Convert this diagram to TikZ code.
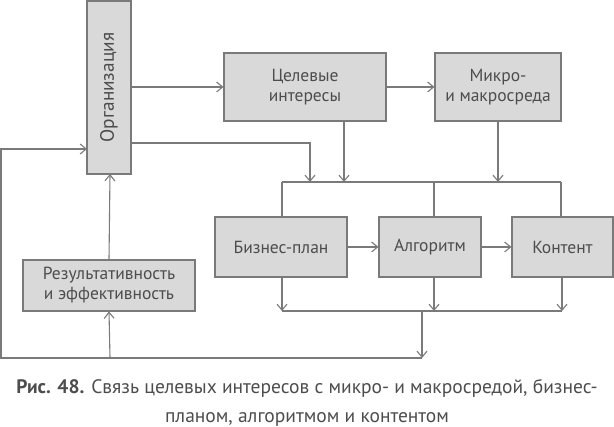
\documentclass[tikz,border=0pt]{standalone}
\usepackage{fontspec}
\setmainfont{PT Sans}
\usetikzlibrary{arrows.meta}
\definecolor{boxfill}{HTML}{D9D9D9}
\definecolor{boxline}{HTML}{7A7A7A}
\definecolor{txt}{HTML}{4D4D4D}
\tikzset{
  blk/.style={draw=boxline, fill=boxfill, line width=1.1pt, text=txt, font=\fontsize{17.5}{20}\selectfont, align=center, inner sep=0pt},
  ln/.style={draw=boxline, line width=1.1pt},
  arr/.style={ln, -{Straight Barb[length=6pt,width=10pt]}},
}
\begin{document}
\begin{tikzpicture}[x=1pt,y=-1pt]
\useasboundingbox (0,0) rectangle (614,427);
% boxes
\node[blk, minimum width=173pt, minimum height=44pt, rotate=90, font=\fontsize{19.3}{20}\selectfont] (org) at (109,87.5) {Организация};
\node[blk, minimum width=162pt, minimum height=68pt] (cel) at (305,87) {Целевые\\интересы};
\node[blk, minimum width=126pt, minimum height=68pt] (mic) at (498,87) {Микро-\\и макросреда};
\node[blk, minimum width=132pt, minimum height=60pt] (biz) at (281,247) {Бизнес-план};
\node[blk, minimum width=102pt, minimum height=60pt] (alg) at (430,247) {Алгоритм};
\node[blk, minimum width=101pt, minimum height=60pt] (kon) at (562.5,247) {Контент};
\node[blk, minimum width=172pt, minimum height=51pt] (res) at (109,285.5) {Результативность\\и эффективность};
% bus coordinates
\coordinate (t1) at (282,182);
\coordinate (t2) at (561,182);
\coordinate (u1) at (282,311);
\coordinate (u2) at (562,311);
\coordinate (m) at (422,311);
\coordinate (d) at (422,358);
\coordinate (l) at (1,358);
\coordinate (r) at (110,358);
\coordinate (o1) at (131,87);
\coordinate (o2) at (131,143);
\coordinate (o3) at (87,149);
% top connectors
\draw[arr] (o1) -- (cel.west);
\draw[arr] (cel.east) -- (mic.west);
\draw[arr] (o2) -| (310,182);
\draw[arr] (344,121) -- (344,182);
\draw[arr] (mic.south) -- (mic.south |- t1);
\draw[ln] (t1) -- (t2);
\draw[ln] (t1) -- (t1 |- biz.north);
\draw[ln] (434,182) -- (434,217);
\draw[ln] (t2) -- (t2 |- kon.north);
% middle row
\draw[arr] (biz.east) -- (alg.west);
\draw[arr] (alg.east) -- (kon.west);
% bottom connectors
\draw[arr] (282,277) -- (u1);
\draw[arr] (434,277) -- (434,311);
\draw[arr] (562,277) -- (u2);
\draw[ln] (u1) -- (u2);
\draw[arr] (m) -- (d);
\draw[arr] (d) -- (l) -- (1,149) -- (o3);
\draw[arr] (r) -- (res.south);
\draw[arr] (res.north) -- (110,174);
% caption
\node[text=txt, font=\fontsize{19.5}{29}\selectfont, align=center] (cap) at (307,403)
  {\textbf{Рис. 48.} Связь целевых интересов с микро- и макросредой, бизнес-\\планом, алгоритмом и контентом};
\end{tikzpicture}
\end{document}
